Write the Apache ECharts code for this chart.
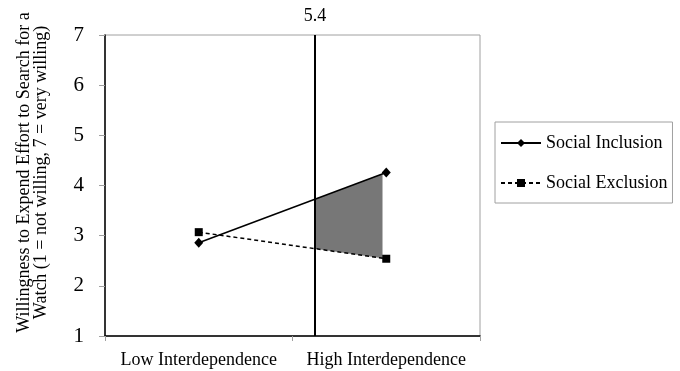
<!DOCTYPE html>
<html>
<head>
<meta charset="utf-8">
<script src="https://cdn.jsdelivr.net/npm/echarts@6/dist/echarts.min.js"></script>
<style>html,body{margin:0;padding:0;background:#fff}#c{width:680px;height:371px}</style>
</head>
<body>
<div id="c"></div>
<script>
const categories = ['Low Interdependence', 'High Interdependence'];
const categoryX = [1, 3];
const inclusion = [2.86, 4.26];
const exclusion = [3.07, 2.54];
const seriesNames = ['Social Inclusion', 'Social Exclusion'];
const jnPosition = 2.24;
const jnLabel = '5.4';
const shadeEnd = 2.96;
const yTitle = 'Willingness to Expend Effort to Search for a\nWatch (1 = not willing, 7 = very willing)';

function interp(arr, x) {
  const t = (x - categoryX[0]) / (categoryX[1] - categoryX[0]);
  return arr[0] + (arr[1] - arr[0]) * t;
}
const shadePoly = [
  [jnPosition, interp(inclusion, jnPosition)],
  [shadeEnd, interp(inclusion, shadeEnd)],
  [shadeEnd, interp(exclusion, shadeEnd)],
  [jnPosition, interp(exclusion, jnPosition)]
];

const font = 'Liberation Serif';
const chart = echarts.init(document.getElementById('c'));
chart.setOption({
  animation: false,
  backgroundColor: '#fff',
  textStyle: { fontFamily: font, color: '#000' },
  grid: { left: 105, right: 200, top: 35, bottom: 35, show: true, borderColor: '#a0a0a0', borderWidth: 1, containLabel: false, outerBoundsMode: 'none' },
  legend: {
    orient: 'vertical', left: 495, top: 122,
    padding: [12, 5, 11, 5],
    itemGap: 22, itemWidth: 40, itemHeight: 10,
    borderColor: '#a0a0a0', borderWidth: 1,
    textStyle: { fontFamily: font, fontSize: 18, color: '#000' },
    data: seriesNames
  },
  xAxis: [
    {
      type: 'category', data: categories, boundaryGap: true,
      axisLine: { lineStyle: { color: '#000', width: 1.5 } },
      axisTick: { show: true, length: 5, lineStyle: { color: '#a0a0a0' } },
      axisLabel: { fontFamily: font, fontSize: 18, color: '#000', margin: 15, interval: 0, hideOverlap: false },
      splitLine: { show: false }
    },
    { type: 'value', min: 0, max: 4, show: false, splitLine: { show: false } }
  ],
  yAxis: {
    type: 'value', min: 1, max: 7, interval: 1,
    name: yTitle, nameLocation: 'middle', nameRotate: 90, nameGap: 55,
    nameTextStyle: { fontFamily: font, fontSize: 18, color: '#000', lineHeight: 17, padding: [0, 0, 0, 26] },
    axisLine: { show: true, lineStyle: { color: '#000', width: 1.5 } },
    axisTick: { show: true, length: 6, lineStyle: { color: '#a0a0a0' } },
    axisLabel: { fontFamily: font, fontSize: 21, color: '#000', margin: 21 },
    splitLine: { show: false }
  },
  series: [
    {
      type: 'custom', xAxisIndex: 1, z: 1, silent: true,
      renderItem: function (params, api) {
        return {
          type: 'polygon',
          shape: { points: shadePoly.map(p => api.coord(p)) },
          style: { fill: '#777777', stroke: null }
        };
      },
      data: [0]
    },
    {
      name: seriesNames[0], type: 'line', xAxisIndex: 1, z: 3,
      data: categoryX.map((x, i) => [x, inclusion[i]]),
      symbol: 'diamond', symbolSize: [9, 10],
      lineStyle: { color: '#000', width: 1.5, type: 'solid' },
      itemStyle: { color: '#000' },
      markLine: {
        silent: true, symbol: 'none',
        lineStyle: { color: '#000', width: 2, type: 'solid' },
        label: { show: true, position: 'end', formatter: jnLabel, fontFamily: font, fontSize: 18, color: '#000', distance: 10 },
        data: [{ xAxis: jnPosition }]
      }
    },
    {
      name: seriesNames[1], type: 'line', xAxisIndex: 1, z: 3,
      data: categoryX.map((x, i) => [x, exclusion[i]]),
      symbol: 'rect', symbolSize: 8,
      lineStyle: { color: '#000', width: 1.5, type: [4, 3] },
      itemStyle: { color: '#000' }
    }
  ]
});
</script>
</body>
</html>
